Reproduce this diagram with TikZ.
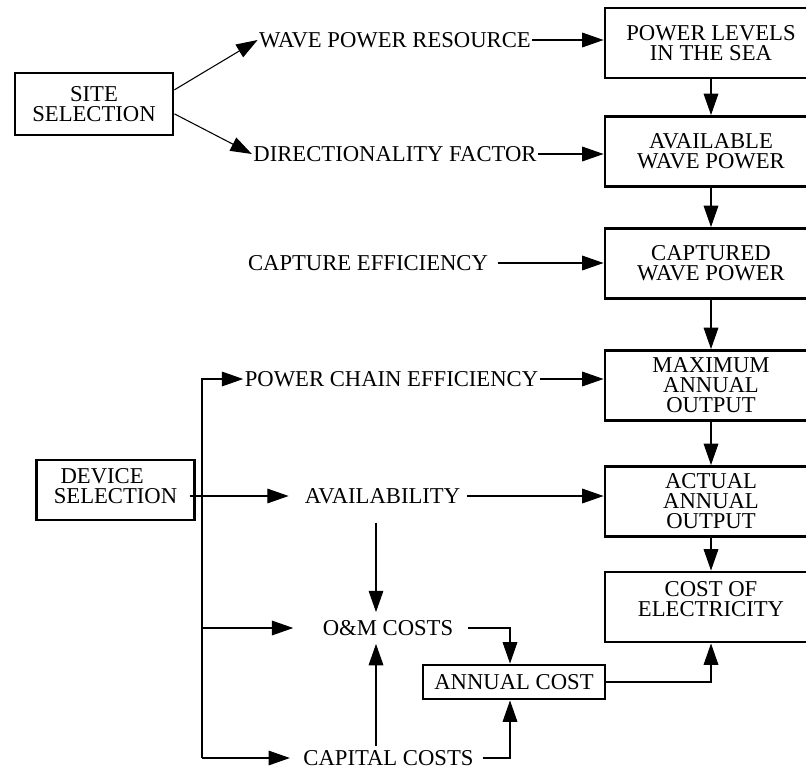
\documentclass[tikz,border=0pt]{standalone}
\usepackage{fontspec}
\setmainfont{Liberation Serif}
\usetikzlibrary{arrows.meta}

\begin{document}
\begin{tikzpicture}[x=0.75pt,y=-0.75pt,
   every node/.style={font=\fontsize{17}{15}\selectfont},
   box/.style={draw,line width=2.2pt,align=center,inner sep=0pt},
   stage/.style={box,minimum width=159pt,minimum height=52.5pt},
   factor/.style={inner sep=1pt},
   arr/.style={-{Triangle[length=16pt,width=11pt]},line width=0.8pt}]
   \useasboundingbox (0,0) rectangle (806,771);
   \clip (0,0) rectangle (806,771);
 %% stages on the right
   \node[stage] (levels) at (711,43) {POWER LEVELS\\IN THE SEA};
   \node[stage] (available) at (711,151.5) {AVAILABLE\\WAVE POWER};
   \node[stage] (captured) at (711,263.5) {CAPTURED\\WAVE POWER};
   \node[stage] (maximum) at (711,385.5) {MAXIMUM\\ANNUAL\\OUTPUT};
   \node[stage] (actual) at (711,501.5) {ACTUAL\\ANNUAL\\OUTPUT};
   \node[stage] (cost) at (711,607) {COST OF\\ELECTRICITY\\[-3pt]\mbox{}};
 \foreach \From/\To in {levels/available, available/captured, captured/maximum, maximum/actual, actual/cost}
        \draw[arr] (\From) -- (\To);
 %% selections
   \node[box,minimum width=118.5pt,minimum height=46.5pt] (site) at (94,104) {SITE\\SELECTION};
   \node[box,minimum width=118pt,minimum height=45pt] (device) at (115.5,490)
        {DEVICE\hspace*{20pt}\\SELECTION\hspace*{20pt}\\[-9pt]\mbox{}};
   \node[box,minimum width=136.5pt,minimum height=25.5pt] (annual) at (514,682) {ANNUAL COST};
 %% factors
   \node[factor] (resource) at (395,40) {WAVE POWER RESOURCE};
   \node[factor] (direction) at (395,154) {DIRECTIONALITY FACTOR};
   \node[factor] (capture) at (368,263) {CAPTURE EFFICIENCY};
   \node[factor] (chain) at (391.5,379) {POWER CHAIN EFFICIENCY};
   \node[factor] (avail) at (382.5,496) {AVAILABILITY};
   \node[factor] (om) at (388,628) {O\&M COSTS};
   \node[factor] (capital) at (388.5,758) {CAPITAL COSTS};
 %% site branch
   \draw[arr] (site.10) -- (resource.west);
   \draw[arr] (site.-7) -- (direction.west);
   \draw[arr] (resource.east) -- (resource.east -| levels.west);
   \draw[arr] (direction.east) -- (direction.east -| available.west);
   \draw[arr] ([xshift=6pt]capture.east) -- (capture.east -| captured.west);
 %% device branch
   \coordinate (trunk) at (202,0);
   \coordinate (drop) at (376,0);
   \draw[arr] (trunk |- capital) -- (trunk |- chain) -- (chain.west);
   \draw[arr] (chain.east) -- (chain.east -| maximum.west);
   \draw[arr] ([xshift=-4.5pt]device.east |- avail) -- ([xshift=-11pt]avail.west);
   \draw[arr] ([xshift=4pt]avail.east) -- (avail.east -| actual.west);
   \draw[arr] (trunk |- om) -- ([xshift=-21pt]om.west);
   \draw[arr] (trunk |- capital) -- ([xshift=-9pt]capital.west);
   \draw[arr] ([yshift=-13pt]drop |- avail.south) -- ([yshift=5pt]drop |- om.north);
   \draw[arr] ([yshift=2pt]drop |- capital.north) -- ([yshift=-5pt]drop |- om.south);
 %% costs
   \draw[arr] ([xshift=10pt]om.east) -| ([xshift=-3pt]annual.north);
   \draw[arr] ([xshift=6pt]capital.east) -| ([xshift=-3pt]annual.south);
   \draw[arr] (annual.east) -| (cost.south);
\end{tikzpicture}
\end{document}
